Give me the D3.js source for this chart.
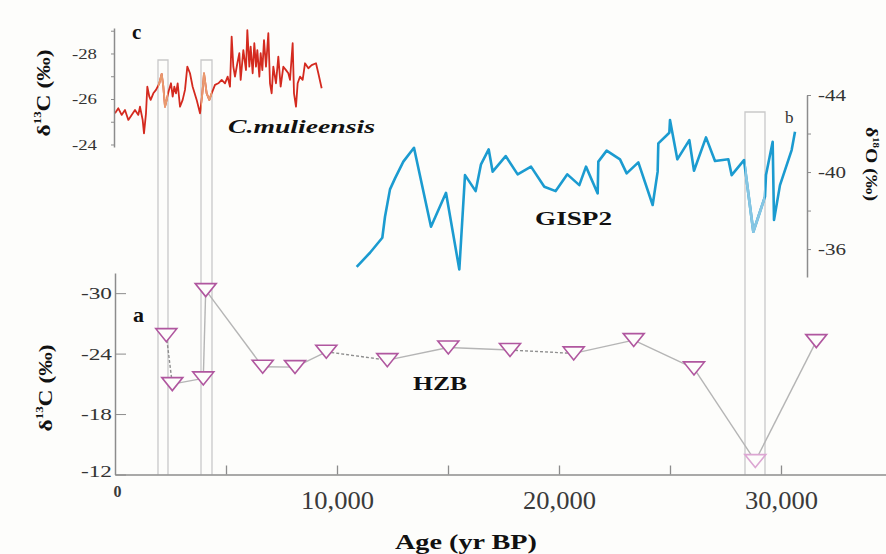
<!DOCTYPE html>
<html><head><meta charset="utf-8">
<script src="https://cdn.jsdelivr.net/npm/d3@7"></script>
<style>html,body{margin:0;padding:0;background:#fdfdfb}svg{display:block}</style>
</head><body>
<script>
// ---------- DATA ----------
// C. mulieensis δ13C (panel c)
const cmYears = [0,150,300,450,600,751,901,1051,1126,1246,1306,1396,1456,1547,1607,1727,1847,1997,2102,2177,2252,2327,2432,2523,2598,2673,2748,2823,2928,3048,3153,3258,3378,3498,3679,3829,3934,4009,4129,4249,4354,4505,4655,4805,4955,5075,5180,5255,5330,5405,5511,5601,5661,5781,5901,5961,6051,6111,6201,6276,6351,6411,6502,6562,6637,6712,6802,6907,6982,7057,7132,7252,7357,7462,7583,7703,7808,7883,8003,8063,8153,8228,8333,8453,8559,8709,8859,9054,9159,9309];
const cmD13C = [-25.37,-25.59,-25.30,-25.52,-25.08,-25.30,-25.52,-25.30,-25.66,-25.08,-24.49,-25.37,-26.54,-26.10,-25.96,-26.25,-26.40,-26.69,-27.10,-26.54,-25.66,-25.96,-26.40,-26.69,-26.10,-26.54,-26.25,-26.69,-25.66,-25.96,-26.40,-27.42,-27.13,-26.54,-25.96,-25.37,-26.25,-27.13,-26.25,-25.96,-26.25,-26.62,-26.69,-26.84,-26.69,-26.98,-26.54,-28.74,-27.42,-26.98,-27.57,-28.01,-26.84,-28.15,-27.27,-29.03,-27.42,-28.30,-27.13,-28.45,-27.42,-28.15,-26.98,-28.01,-27.27,-28.59,-27.42,-28.89,-26.69,-26.25,-27.42,-26.69,-27.86,-26.54,-27.42,-27.27,-27.13,-26.84,-28.45,-26.25,-25.66,-26.69,-26.98,-26.84,-27.57,-27.35,-27.49,-27.57,-27.13,-26.47];

// GISP2 δ18O (panel b)
const gYears = [10886,11486,12041,12162,12387,12613,12988,13468,14234,14910,15510,15766,16246,16486,16832,17012,17598,18138,18739,19339,19850,20375,20916,21216,21742,21772,22147,22748,23048,23574,24219,24444,24474,24970,25000,25330,25871,26081,26622,27027,27628,27778,28333,28754,29279,29324,29625,29685,29955,30480,30631];
const gD18O = [-35.08,-35.81,-36.59,-37.68,-39.10,-39.67,-40.54,-41.26,-37.16,-38.92,-34.94,-39.84,-39.01,-40.40,-41.18,-40.02,-40.83,-39.88,-40.28,-39.24,-39.01,-39.88,-39.32,-40.28,-38.89,-40.54,-41.11,-40.66,-39.93,-40.50,-38.29,-40.02,-41.49,-42.04,-42.70,-40.66,-41.66,-40.07,-41.80,-40.57,-40.66,-39.84,-40.62,-36.90,-38.72,-39.84,-41.57,-37.51,-39.32,-41.14,-42.09];

// HZB δ13C (panel a)
const hYears = [2311,2581,3977,4086,6653,8108,9518,12266,15014,17793,20662,23365,26081,28842,31590];
const hD13C = [-25.83,-20.97,-21.54,-30.30,-22.69,-22.66,-24.18,-23.35,-24.61,-24.35,-24.02,-25.34,-22.53,-13.33,-25.24];
const hDashedAfter = [true,false,false,false,false,false,true,false,false,true,false,false,false,false];

// highlighted intervals (yr BP)
const boxStart = [1937, 3874, 28378];
const boxEnd   = [2387, 4369, 29279];

// tick values / labels
const xTicks = [0,5000,10000,15000,20000,25000,30000];
const xTickLabels = ["0","","10,000","","20,000","","30,000"];
const aTicks = [-30,-24,-18,-12];
const cTicks = [-29,-28,-27,-26,-25,-24];
const cTickLabels = ["","-28","","-26","","-24"];
const bTicks = [-44,-42,-40,-38,-36];
const bTickLabels = ["-44","","-40","","-36"];

// ---------- LAYOUT ----------
const W = 886, H = 554;
const SERIF = "'Liberation Serif','Times New Roman',serif";
const svg = d3.select("body").append("svg").attr("width", W).attr("height", H)
  .style("font-family", SERIF);
svg.append("rect").attr("width", W).attr("height", H).attr("fill", "#fdfdfb");

const x = d3.scaleLinear().domain([0, 34730]).range([115, 886]);
const yA = d3.scaleLinear().domain([-12, -32]).range([474.5, 273]);
const yC = d3.scaleLinear().domain([-23.89, -29.12]).range([147, 28]);
const yB = d3.scaleLinear().domain([-44, -34.55]).range([95, 277]);

const boxTop = [60, 60, 112];
const axisGray = "#8c8c8c";

// clip paths for highlighted intervals
const defs = svg.append("defs");
boxStart.forEach((s, i) => {
  defs.append("clipPath").attr("id", "box" + i).append("rect")
    .attr("x", x(s)).attr("width", x(boxEnd[i]) - x(s))
    .attr("y", 0).attr("height", H);
});

// boxes
boxStart.forEach((s, i) => {
  svg.append("path")
    .attr("d", `M${x(s)},${yA(-12)}V${boxTop[i]}H${x(boxEnd[i])}V${yA(-12)}`)
    .attr("fill", "none").attr("stroke", "#c9c9c9").attr("stroke-width", 1.3);
});

// ---------- PANEL C ----------
const cmData = cmYears.map((t, i) => [t, cmD13C[i]]);
const lineC = d3.line().x(d => x(d[0])).y(d => yC(d[1]));
svg.append("path").datum(cmData).attr("d", lineC)
  .attr("fill", "none").attr("stroke", "#d42a1f").attr("stroke-width", 1.8).attr("stroke-linejoin", "round");
[0, 1].forEach(i => {
  svg.append("path").datum(cmData).attr("d", lineC).attr("clip-path", `url(#box${i})`)
    .attr("fill", "none").attr("stroke", "#e99a6e").attr("stroke-width", 1.9).attr("stroke-linejoin", "round");
});
const axC = svg.append("g").attr("transform", `translate(${x(0) - 1},0)`)
  .call(d3.axisLeft(yC).tickValues(cTicks).tickSizeInner(3).tickSizeOuter(0).tickPadding(14)
    .tickFormat((d, i) => cTickLabels[i]));
axC.select(".domain").attr("stroke", axisGray).attr("stroke-width", 1.5);
axC.selectAll(".tick line").attr("stroke", axisGray);
axC.selectAll(".tick text").attr("font-family", SERIF).attr("font-size", 15).attr("fill", "#333")
  .each(function () { if (this.textContent) d3.select(this).attr("textLength", 25).attr("lengthAdjust", "spacingAndGlyphs"); });

// ---------- PANEL B ----------
const gData = gYears.map((t, i) => [t, gD18O[i]]);
const lineB = d3.line().x(d => x(d[0])).y(d => yB(d[1]));
svg.append("path").datum(gData).attr("d", lineB)
  .attr("fill", "none").attr("stroke", "#1b9bd0").attr("stroke-width", 2.6).attr("stroke-linejoin", "round");
svg.append("path").datum(gData).attr("d", lineB).attr("clip-path", "url(#box2)")
  .attr("fill", "none").attr("stroke", "#86c6e3").attr("stroke-width", 2.7).attr("stroke-linejoin", "round");
const axB = svg.append("g").attr("transform", "translate(807,0)")
  .call(d3.axisRight(yB).tickValues(bTicks).tickSizeInner(4).tickSizeOuter(0).tickPadding(7)
    .tickFormat((d, i) => bTickLabels[i]));
axB.select(".domain").attr("stroke", axisGray).attr("stroke-width", 1.5);
axB.selectAll(".tick line").attr("stroke", axisGray);
axB.selectAll(".tick text").attr("font-family", SERIF).attr("font-size", 17).attr("fill", "#333")
  .each(function () { if (this.textContent) d3.select(this).attr("textLength", 28).attr("lengthAdjust", "spacingAndGlyphs"); });

// ---------- PANEL A ----------
const axA = svg.append("g").attr("transform", `translate(${x(0)},0)`)
  .call(d3.axisLeft(yA).tickValues(aTicks).tickSizeInner(-11).tickSizeOuter(0).tickPadding(3)
    .tickFormat(d => String(d)));
axA.select(".domain").attr("stroke", axisGray).attr("stroke-width", 1.5);
axA.selectAll(".tick line").attr("stroke", axisGray);
axA.selectAll(".tick text").attr("font-family", SERIF).attr("font-size", 17).attr("fill", "#333")
  .attr("textLength", 31).attr("lengthAdjust", "spacingAndGlyphs");
axA.selectAll(".tick").filter(d => d === -12).select("text").attr("dy", "0.1em");

const axX = svg.append("g").attr("transform", `translate(0,${yA(-12)})`)
  .call(d3.axisBottom(x).tickValues(xTicks).tickSizeInner(-9).tickSizeOuter(0).tickPadding(16)
    .tickFormat((d, i) => xTickLabels[i]));
axX.select(".domain").attr("stroke", axisGray).attr("stroke-width", 1.5);
axX.selectAll(".tick line").attr("stroke", axisGray).attr("stroke-width", 1.3);
axX.selectAll(".tick").filter(d => d === 0).select("line").remove();
axX.selectAll(".tick text").attr("font-family", SERIF).attr("font-size", 26).attr("fill", "#3a3a3a")
  .each(function (d) {
    const t = d3.select(this);
    if (d === 0) t.attr("font-size", 16).attr("font-weight", "bold").attr("y", 11).attr("dx", 2);
    else if (this.textContent) t.attr("textLength", 73).attr("lengthAdjust", "spacingAndGlyphs");
  });

// HZB line segments
const hData = hYears.map((t, i) => [t, hD13C[i]]);
const segs = d3.pairs(hData).map((p, i) => ({ p, dashed: hDashedAfter[i] }));
svg.append("g").selectAll("line").data(segs).join("line")
  .attr("x1", d => x(d.p[0][0])).attr("y1", d => yA(d.p[0][1]))
  .attr("x2", d => x(d.p[1][0])).attr("y2", d => yA(d.p[1][1]))
  .attr("stroke", d => d.dashed ? "#8f8f8f" : "#b5b5b5")
  .attr("stroke-width", 1.4)
  .attr("stroke-dasharray", d => d.dashed ? "3,2" : null);

// HZB markers (downward triangles)
const tri = "M-10.5,-6.5L10.5,-6.5L0,6.5Z";
svg.append("g").selectAll("path").data(hData).join("path")
  .attr("d", tri)
  .attr("transform", d => `translate(${x(d[0])},${yA(d[1])})`)
  .attr("fill", "#fdfdfb")
  .attr("stroke", (d, i) => i === 13 ? "#dca6d2" : "#b0579f")
  .attr("stroke-width", 1.6).attr("stroke-linejoin", "miter");

// ---------- TEXT ----------
function txt(s, px, py, size, opts = {}) {
  const t = svg.append("text").attr("x", px).attr("y", py).attr("font-size", size)
    .attr("font-weight", opts.weight || "bold").attr("fill", opts.fill || "#111")
    .attr("font-style", opts.style || "normal");
  if (opts.anchor) t.attr("text-anchor", opts.anchor);
  if (opts.len) t.attr("textLength", opts.len).attr("lengthAdjust", "spacingAndGlyphs");
  t.text(s);
  return t;
}
txt("c", 132, 39, 21);
txt("a", 133, 322, 22);
txt("b", 785, 123, 17, { weight: "normal", fill: "#333" });
txt("C.mulieensis", 228, 133, 19, { style: "italic", len: 147 });
txt("GISP2", 535, 225, 18, { len: 77 });
txt("HZB", 413, 390, 19, { len: 54 });
txt("Age (yr BP)", 395, 549, 22, { len: 142 });

function vTitle(px, py, rot, iso, elem, anchor, size, len) {
  const t = svg.append("text").attr("transform", `translate(${px},${py}) rotate(${rot})`)
    .attr("text-anchor", anchor).attr("font-size", size).attr("font-weight", "bold").attr("fill", "#111");
  t.append("tspan").text("δ");
  t.append("tspan").attr("font-size", size * 0.55).attr("dy", -size * 0.45).text(iso);
  t.append("tspan").attr("dy", size * 0.45).text(elem + " (‰)");
  if (len) t.attr("textLength", len).attr("lengthAdjust", "spacingAndGlyphs");
}
vTitle(50, 93, -90, "13", "C", "middle", 19, 87);
vTitle(52, 388, -90, "13", "C", "middle", 19, 87);
vTitle(866, 127, 90, "18", "O", "start", 16, 74);
</script>
</body></html>
